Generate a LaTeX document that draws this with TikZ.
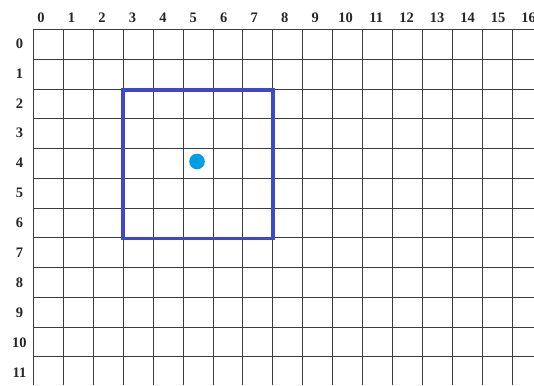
\documentclass[tikz,border=0pt]{standalone}
\usepackage{fontspec}
\setmainfont{Liberation Serif}
\definecolor{gridc}{RGB}{60,60,60}
\definecolor{sqblue}{RGB}{62,72,204}
\definecolor{dotblue}{RGB}{0,158,228}
\begin{document}
\begin{tikzpicture}[x=1pt,y=-1pt,
  gridline/.style={draw=gridc,line width=1.3pt},
  lbl/.style={font=\bfseries\fontsize{14.5}{14.5}\selectfont,inner sep=0pt,text=black!85},
  square/.style={draw=sqblue,line width=3.8pt},
  marker/.style={fill=dotblue}]
\useasboundingbox (0,0) rectangle (534,385);
\fill[white] (0,0) rectangle (534,385);
% vertical grid lines
\foreach \k in {0,...,16}{
  \pgfmathsetmacro{\xx}{round(33+29.92*\k)+0.5}
  \draw[gridline] (\xx,29.5) -- (\xx,385);
}
% horizontal grid lines
\foreach \k in {0,...,11}{
  \pgfmathsetmacro{\yy}{round(29+29.77*\k)+0.5}
  \draw[gridline] (33.5,\yy) -- (534,\yy);
}
% column labels
\foreach \k in {0,...,16}{
  \node[lbl] (c\k) at ({41+30.47*\k},17.5) {\k};
}
% row labels
\foreach \k in {0,...,11}{
  \node[lbl] (r\k) at (19.5,{43.5+29.9*\k}) {\k};
}
% blue square
\draw[square] (123.3,90.3) rectangle (273,238.5);
% dot
\fill[marker] (197,161.5) circle (7.8);
\end{tikzpicture}
\end{document}
